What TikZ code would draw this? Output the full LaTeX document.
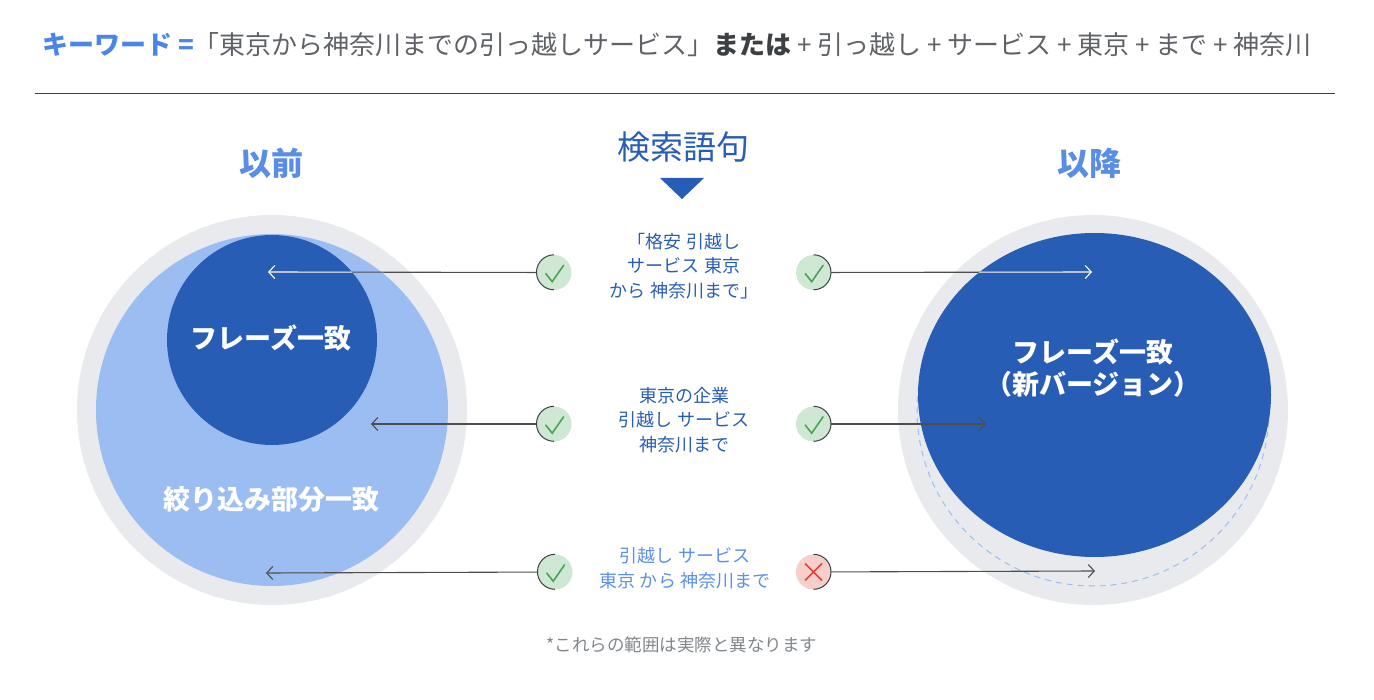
\documentclass[tikz,border=0pt]{standalone}
\usepackage{fontspec}
\setmainfont{Noto Sans CJK JP}
\usetikzlibrary{arrows.meta,shapes.geometric}
\definecolor{ringgray}{HTML}{E8EAED}
\definecolor{lightblue}{HTML}{9CBDF1}
\definecolor{darkblue}{HTML}{285DB6}
\definecolor{headblue}{HTML}{5A8DE5}
\definecolor{keyblue}{HTML}{4A86E8}
\definecolor{softblue}{HTML}{5B8FE8}
\definecolor{titlegray}{HTML}{5F6368}
\definecolor{boldgray}{HTML}{3C4043}
\definecolor{notegray}{HTML}{80868B}
\definecolor{linegray}{HTML}{4D4D4D}
\definecolor{okfill}{HTML}{CEE8D4}
\definecolor{okstroke}{HTML}{4CA254}
\definecolor{ngfill}{HTML}{F6CFCB}
\definecolor{ngstroke}{HTML}{E5403A}
\begin{document}
\begin{tikzpicture}
			[x=1pt,y=-1pt,
			every circle node/.style={draw=none,inner sep=0pt},
			ok/.style={circle,fill=okfill,minimum size=35pt},
			ng/.style={circle,fill=ngfill,minimum size=35pt},
			ring/.style={draw=boldgray,line width=1pt},
			arr/.style={draw=linegray,line width=1.1pt,-{Straight Barb[length=6pt,width=13pt]}},
			query/.style={align=center,font=\fontsize{18}{24.5}\selectfont},
			label/.style={align=center,text=white,font=\bfseries\fontsize{27}{32}\selectfont},
			okmark/.pic={\draw[okstroke,line width=1.6pt] (-8.5,0.8) -- (-1.8,9.2) -- (9.8,-7.5);},
			ngmark/.pic={\draw[ngstroke,line width=1.6pt] (-8.5,-8.5) -- (8.5,8.5) (-8.5,8.5) -- (8.5,-8.5);}]
			\useasboundingbox (0,0) rectangle (1374,700);
			\node[anchor=west,inner sep=0pt,text=titlegray,font=\fontsize{26}{30}\selectfont] (title) at (42,45)
			{{\bfseries\color{keyblue}キーワード =}「東京から神奈川までの引っ越しサービス」{\bfseries\color{boldgray}または} + 引っ越し + サービス + 東京 + まで + 神奈川};
			\coordinate (hrl) at (35,94);
			\coordinate (hrr) at (1335,94);
			\draw[boldgray,line width=1pt] (hrl) -- (hrr);
			\node[text=headblue,font=\bfseries\fontsize{32}{36}\selectfont] (before) at (271,163) {以前};
			\node[text=headblue,font=\bfseries\fontsize{32}{36}\selectfont] (after) at (1089,163) {以降};
			\node[text=darkblue,font=\fontsize{33}{37}\selectfont] (terms) at (683,147) {検索語句};
			\fill[darkblue] (660,178) -- (704,178) -- (682,199) -- cycle;
			\node[circle,fill=ringgray,minimum size=390pt] (lring) at (272,410) {};
			\node[circle,fill=lightblue,minimum size=352pt] (broad) at (272,410) {};
			\node[circle,fill=darkblue,minimum size=210pt] (phrase) at (272,340) {};
			\node[label] (phraselbl) at (271,338) {フレーズ一致};
			\node[label] (broadlbl) at (271,499) {絞り込み部分一致};
			\node[circle,fill=ringgray,minimum size=390pt] (rring) at (1093,410) {};
			\draw[lightblue,line width=1pt,dash pattern=on 6pt off 5pt] (rring.center) circle[radius=176pt];
			\node[ellipse,fill=darkblue,inner sep=0pt,minimum width=353pt,minimum height=324pt] (newphrase) at (1094.5,395) {};
			\node[label] (newlbl) at (1093,368) {フレーズ一致\\（新バージョン）};
			\node[query,text=darkblue] (q1) at (684,266) {「格安 引越し\\サービス 東京\\から 神奈川まで」};
			\node[query,text=darkblue] (q2) at (684,420) {東京の企業\\引越し サービス\\神奈川まで};
			\node[query,text=softblue] (q3) at (685,568) {引越し サービス\\東京 から 神奈川まで};
			\node[ok] (l1) at (554,272.5) {};
			\node[ok] (l2) at (554,424) {};
			\node[ok] (l3) at (555,572) {};
			\node[ok] (r1) at (813.5,272.5) {};
			\node[ok] (r2) at (813.5,424) {};
			\node[ng] (r3) at (813.5,572) {};
			\foreach \c in {l1,l2,l3}{
				\draw[ring] (\c.north) arc[start angle=90,end angle=270,radius=17.5pt];
				\pic at (\c) {okmark};
			}
			\foreach \c in {r1,r2,r3}
				\draw[ring] (\c.north) arc[start angle=90,end angle=-90,radius=17.5pt];
			\pic at (r1) {okmark};
			\pic at (r2) {okmark};
			\pic at (r3) {ngmark};
			\coordinate (tl1) at (268,272);
			\coordinate (tl2) at (371,424);
			\coordinate (tl3) at (266,573);
			\coordinate (tr1) at (1092,272);
			\coordinate (tr2) at (986,424);
			\coordinate (tr3) at (1095,571);
			\path[arr]
			(l1) edge (tl1)
			(l2) edge (tl2)
			(l3) edge (tl3)
			(r1) edge (tr1)
			(r2) edge (tr2)
			(r3) edge (tr3);
			\begin{scope}
				\clip (phrase.center) circle[radius=105pt];
				\draw[arr,draw=white] (l1) -- (tl1);
			\end{scope}
			\begin{scope}
				\clip (newphrase.center) ellipse[x radius=176.5pt,y radius=162pt];
				\draw[arr,draw=white] (r1) -- (tr1);
			\end{scope}
			\node[text=notegray,font=\fontsize{17.5}{21}\selectfont] (note) at (682,645) {*これらの範囲は実際と異なります};
		\end{tikzpicture}
\end{document}
